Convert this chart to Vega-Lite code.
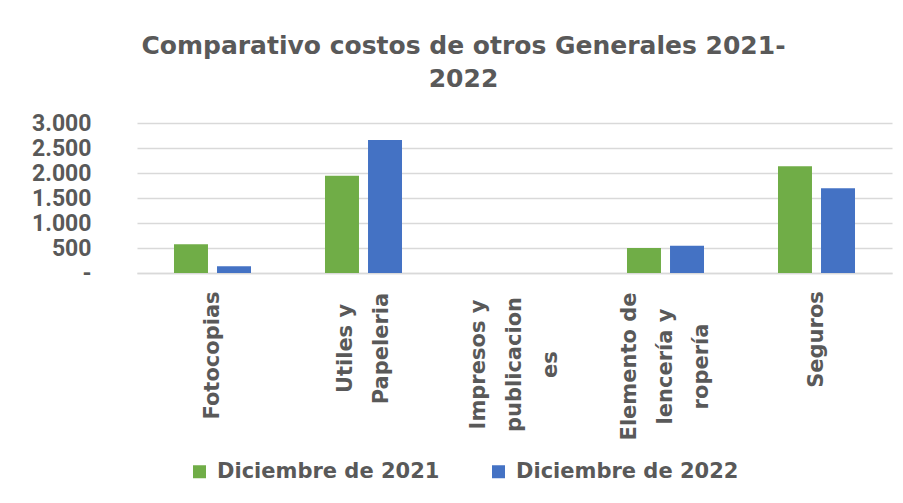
{
  "$schema": "https://vega.github.io/schema/vega-lite/v6.json",
  "autosize": {"type": "none"},
  "width": 755,
  "height": 150,
  "padding": {"left": 137, "top": 123, "right": 11, "bottom": 230},
  "background": "white",
  "title": {
    "text": ["Comparativo costos de otros Generales 2021-", "2022"],
    "font": "DejaVu Sans",
    "fontSize": 25,
    "fontWeight": "bold",
    "color": "#595959",
    "anchor": "middle",
    "frame": "group",
    "dx": -51,
    "offset": 20,
    "lineHeight": 33
  },
  "data": {
    "values": [
      {"categoria": "Fotocopias", "periodo": "Diciembre de 2021", "valor": 574},
      {"categoria": "Fotocopias", "periodo": "Diciembre de 2022", "valor": 133},
      {"categoria": "Utiles y Papeleria", "periodo": "Diciembre de 2021", "valor": 1947},
      {"categoria": "Utiles y Papeleria", "periodo": "Diciembre de 2022", "valor": 2660},
      {"categoria": "Impresos y publicaciones", "periodo": "Diciembre de 2021", "valor": 0},
      {"categoria": "Impresos y publicaciones", "periodo": "Diciembre de 2022", "valor": 0},
      {"categoria": "Elemento de lencería y ropería", "periodo": "Diciembre de 2021", "valor": 500},
      {"categoria": "Elemento de lencería y ropería", "periodo": "Diciembre de 2022", "valor": 547},
      {"categoria": "Seguros", "periodo": "Diciembre de 2021", "valor": 2133},
      {"categoria": "Seguros", "periodo": "Diciembre de 2022", "valor": 1693}
    ]
  },
  "mark": {"type": "bar"},
  "encoding": {
    "x": {
      "field": "categoria",
      "type": "nominal",
      "sort": null,
      "scale": {"paddingInner": 0.49, "paddingOuter": 0.245},
      "axis": {
        "title": null,
        "labelAngle": -90,
        "labelAlign": "center",
        "labelBaseline": "middle",
        "labelFont": "DejaVu Sans",
        "labelFontSize": 21,
        "labelFontWeight": "bold",
        "labelColor": "#595959",
        "labelLineHeight": 36,
        "labelPadding": {
          "condition": [
            {"test": "datum.value == 'Fotocopias'", "value": 82},
            {"test": "datum.value == 'Utiles y Papeleria'", "value": 75},
            {"test": "datum.value == 'Impresos y publicaciones'", "value": 91},
            {"test": "datum.value == 'Elemento de lencería y ropería'", "value": 93}
          ],
          "value": 66
        },
        "labelOffset": {
          "condition": [
            {"test": "datum.value == 'Utiles y Papeleria'", "value": -18},
            {"test": "datum.value == 'Impresos y publicaciones'", "value": -36},
            {"test": "datum.value == 'Elemento de lencería y ropería'", "value": -36}
          ],
          "value": 0
        },
        "labelLimit": 300,
        "ticks": false,
        "domain": true,
        "domainColor": "#D9D9D9",
        "domainWidth": 1.5,
        "labelExpr": "datum.label == 'Utiles y Papeleria' ? ['Utiles y', 'Papeleria'] : datum.label == 'Impresos y publicaciones' ? ['Impresos y', 'publicacion', 'es'] : datum.label == 'Elemento de lencería y ropería' ? ['Elemento de', 'lencería y', 'ropería'] : datum.label"
      }
    },
    "xOffset": {
      "field": "periodo",
      "type": "nominal",
      "scale": {"paddingInner": 0.21}
    },
    "y": {
      "field": "valor",
      "type": "quantitative",
      "scale": {"domain": [0, 3000], "nice": false},
      "axis": {
        "title": null,
        "values": [0, 500, 1000, 1500, 2000, 2500, 3000],
        "labelExpr": "datum.value == 0 ? '-' : replace(format(datum.value, ','), ',', '.')",
        "labelFont": "Roboto",
        "labelFontSize": 23,
        "labelFontWeight": "bold",
        "labelColor": "#595959",
        "labelPadding": 46,
        "ticks": false,
        "domain": false,
        "grid": true,
        "gridColor": "#D9D9D9",
        "gridWidth": 1.5
      }
    },
    "color": {
      "field": "periodo",
      "type": "nominal",
      "scale": {"domain": ["Diciembre de 2021", "Diciembre de 2022"], "range": ["#70AD47", "#4472C4"]},
      "legend": {
        "title": null,
        "orient": "none",
        "direction": "horizontal",
        "legendX": 52,
        "legendY": 338,
        "symbolType": "square",
        "symbolSize": 169,
        "symbolStrokeWidth": 0,
        "labelFont": "DejaVu Sans",
        "labelFontSize": 21,
        "labelFontWeight": "bold",
        "labelColor": "#595959",
        "labelOffset": 7,
        "columnPadding": 48,
        "labelLimit": 400,
        "padding": 0
      }
    }
  },
  "config": {
    "view": {"stroke": null},
    "bar": {"strokeWidth": 0}
  }
}
